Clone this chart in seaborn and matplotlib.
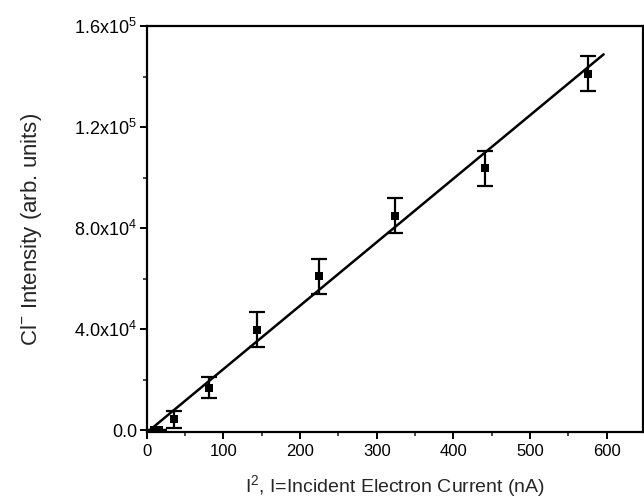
"""
Cl- intensity vs I^2 (incident electron current), with linear fit.
"""

import numpy as np
import pandas as pd
import matplotlib
matplotlib.use('Agg')
import matplotlib.pyplot as plt
from matplotlib.ticker import FixedLocator, MultipleLocator
import seaborn as sns

# Data
current_sq = [9, 16, 36, 81, 144, 225, 324, 441, 576]
intensity = [200, 300, 4400, 17000, 39900, 61000, 85000, 103800, 141200]
intensity_err = [0, 0, 3500, 4000, 6900, 7000, 6800, 6900, 6900]

# Linear fit as drawn
fit_slope = 251.0
fit_intercept = -800.0
fit_range = [4, 596]

y_ticks = [0, 4.0e4, 8.0e4, 1.2e5, 1.6e5]
y_tick_labels = ['0.0', r'4.0x10$^{4}$', r'8.0x10$^{4}$', r'1.2x10$^{5}$', r'1.6x10$^{5}$']
x_ticks = [0, 100, 200, 300, 400, 500, 600]

sns.set_style('ticks')
plt.rcParams['font.family'] = ['Liberation Sans', 'DejaVu Sans']
plt.rcParams['mathtext.fontset'] = 'custom'
plt.rcParams['mathtext.rm'] = 'Liberation Sans'
plt.rcParams['mathtext.it'] = 'Liberation Sans'

df = pd.DataFrame({'x': current_sq, 'y': intensity, 'err': intensity_err})
fit_x = np.array(fit_range, dtype=float)
fit = pd.DataFrame({'x': fit_x, 'y': fit_slope * fit_x + fit_intercept})

fig = plt.figure(figsize=(6.44, 5.0), dpi=100)
ax = fig.add_axes([0.228, 0.136, 0.770, 0.812])

sns.lineplot(data=fit, x='x', y='y', ax=ax, color='black', linewidth=1.8)
ax.errorbar(df['x'], df['y'], yerr=df['err'], fmt='none', ecolor='black',
            elinewidth=1.6, capsize=5.5, capthick=1.6)
sns.scatterplot(data=df, x='x', y='y', ax=ax, marker='s', color='black',
                s=30, edgecolor='black', linewidth=0, zorder=3)

ax.set_xlim(0, 647)
ax.set_ylim(-600, 1.6e5)
ax.xaxis.set_major_locator(FixedLocator(x_ticks))
ax.xaxis.set_minor_locator(MultipleLocator(50))
ax.set_yticks(y_ticks)
ax.set_yticklabels(y_tick_labels)
ax.yaxis.set_minor_locator(MultipleLocator(2e4))

for side in ['left', 'right', 'top', 'bottom']:
    ax.spines[side].set_visible(True)
    ax.spines[side].set_linewidth(1.6)
    ax.spines[side].set_color('black')

ax.tick_params(which='major', direction='out', length=5, width=1.4,
               colors='black', pad=2)
ax.tick_params(axis='x', which='major', labelsize=12, pad=4)
ax.tick_params(axis='y', which='major', labelsize=13)
ax.tick_params(which='minor', direction='out', length=3, width=1.2)

ax.set_xlabel(r'I$^{2}$, I=Incident Electron Current (nA)', fontsize=14, labelpad=10)
ax.set_ylabel(r'Cl$^{-}$ Intensity (arb. units)', fontsize=16, labelpad=22)

plt.savefig('out.png', dpi=100)
